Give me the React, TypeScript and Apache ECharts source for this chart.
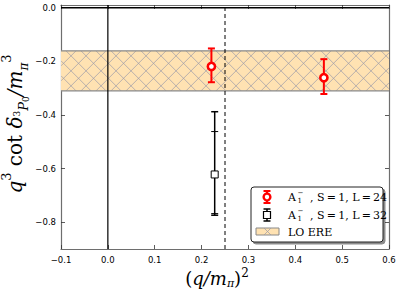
import React, { useEffect, useRef } from "react";
import * as echarts from "echarts";

// ---- data ----
const xTicks = [-0.1, 0.0, 0.1, 0.2, 0.3, 0.4, 0.5, 0.6];
const yTicks = [-0.8, -0.6, -0.4, -0.2, 0.0];
const xRange = [-0.1, 0.6];
const yRange = [-0.9, 0.01];

// L=24 (red)
const redX = [0.221, 0.461];
const redY = [-0.219, -0.261];
const redLo = [-0.278, -0.322];
const redHi = [-0.152, -0.192];

// L=32 (black): two error bars
const blackX = [0.228];
const blackY = [-0.622];
const blackLo = [-0.774];
const blackHi = [-0.388];
const blackLo2 = [-0.768];
const blackHi2 = [-0.462];

// LO ERE band
const bandLo = -0.31;
const bandHi = -0.161;

// reference lines
const xZero = 0.0;
const xDash = 0.25;
const yZero = 0.0;

const BAND_FILL = "#FFE2B2";
const RED = "#FF0000";

const fmt = (v: number) => {
  const s = (Math.round(v * 10) / 10).toFixed(1);
  return s.replace("-", "\u2212");
};

function hatchLines(x0: number, y0: number, x1: number, y1: number, step: number) {
  const out: any[] = [];
  const style = { stroke: "#9a9aa8", lineWidth: 0.7 };
  for (let c = x0 - y1; c <= x1 - y0; c += step) {
    const a = Math.max(x0, y0 + c);
    const b = Math.min(x1, y1 + c);
    if (b > a) out.push({ type: "line", shape: { x1: a, y1: a - c, x2: b, y2: b - c }, style });
  }
  for (let c = x0 + y0; c <= x1 + y1; c += step) {
    const a = Math.max(x0, c - y1);
    const b = Math.min(x1, c - y0);
    if (b > a) out.push({ type: "line", shape: { x1: a, y1: c - a, x2: b, y2: c - b }, style });
  }
  return out;
}

export default function App() {
  const ref = useRef<HTMLDivElement>(null);
  useEffect(() => {
    if (!ref.current) return;
    const chart = echarts.init(ref.current, undefined, { renderer: "svg" });

    const axisCommon = {
      type: "value" as const,
      splitLine: { show: false },
      axisLine: { onZero: false, lineStyle: { color: "#6e6e6e", width: 1.2 } },
      axisTick: { inside: true, length: 4, lineStyle: { color: "#333", width: 0.8 } },
    };

    const redData = redX.map((x, i) => [x, redY[i], redLo[i], redHi[i]]);
    const blackData = blackX.map((x, i) => [x, blackY[i], blackLo[i], blackHi[i], blackLo2[i], blackHi2[i]]);

    const serif = "DejaVu Serif";
    const LH = 30;
    const XLH = 22;

    const option: any = {
      animation: false,
      backgroundColor: "#fff",
      grid: { left: 61, right: 10, top: 5, bottom: 45 },
      xAxis: [
        {
          ...axisCommon,
          position: "bottom",
          min: xRange[0],
          max: xRange[1],
          interval: 0.1,
          axisLabel: { fontSize: 8.5, color: "#000", fontFamily: "DejaVu Sans", margin: 6, formatter: fmt },
        },
        {
          ...axisCommon,
          position: "top",
          min: xRange[0],
          max: xRange[1],
          interval: 0.1,
          axisLabel: { show: false },
        },
      ],
      yAxis: [
        {
          ...axisCommon,
          position: "left",
          min: yRange[0],
          max: yRange[1],
          axisTick: { ...axisCommon.axisTick, customValues: yTicks },
          axisLabel: {
            fontSize: 8.5,
            color: "#000",
            fontFamily: "DejaVu Sans",
            margin: 5,
            customValues: yTicks,
            formatter: fmt,
          },
        },
        {
          ...axisCommon,
          position: "right",
          min: yRange[0],
          max: yRange[1],
          axisTick: { ...axisCommon.axisTick, customValues: yTicks },
          axisLabel: { show: false },
        },
      ],
      series: [
        {
          type: "custom",
          name: "LO ERE",
          z: 1,
          clip: true,
          data: [[xRange[0], bandLo, xRange[1], bandHi]],
          renderItem: (params: any, api: any) => {
            const p0 = api.coord([api.value(0), api.value(3)]);
            const p1 = api.coord([api.value(2), api.value(1)]);
            const x0 = p0[0], y0 = p0[1], x1 = p1[0], y1 = p1[1];
            return {
              type: "group",
              children: [
                { type: "rect", shape: { x: x0, y: y0, width: x1 - x0, height: y1 - y0 }, style: { fill: BAND_FILL } },
                ...hatchLines(x0, y0, x1, y1, 15),
                { type: "line", shape: { x1: x0, y1: y0, x2: x1, y2: y0 }, style: { stroke: "#888", lineWidth: 1.2 } },
                { type: "line", shape: { x1: x0, y1: y1, x2: x1, y2: y1 }, style: { stroke: "#888", lineWidth: 1.2 } },
              ],
            };
          },
        },
        {
          type: "line",
          z: 2,
          symbol: "none",
          data: [[xZero, yRange[0]], [xZero, yRange[1]]],
          lineStyle: { color: "#000", width: 1.2 },
        },
        {
          type: "line",
          z: 2,
          symbol: "none",
          data: [[xRange[0], yZero], [xRange[1], yZero]],
          lineStyle: { color: "#000", width: 1.5 },
        },
        {
          type: "line",
          z: 2,
          symbol: "none",
          data: [[xDash, yRange[0]], [xDash, yRange[1]]],
          lineStyle: { color: "#000", width: 1, type: [4, 3] },
        },
        {
          type: "custom",
          name: "L=32",
          z: 3,
          data: blackData,
          renderItem: (params: any, api: any) => {
            const x = api.value(0);
            const p = api.coord([x, api.value(1)]);
            const lo = api.coord([x, api.value(2)]);
            const hi = api.coord([x, api.value(3)]);
            const lo2 = api.coord([x, api.value(4)]);
            const hi2 = api.coord([x, api.value(5)]);
            const s = { stroke: "#000", lineWidth: 1.5 };
            const cw = 3.5;
            return {
              type: "group",
              children: [
                { type: "line", shape: { x1: p[0], y1: hi[1], x2: p[0], y2: lo[1] }, style: s },
                { type: "line", shape: { x1: p[0] - cw, y1: hi[1], x2: p[0] + cw, y2: hi[1] }, style: s },
                { type: "line", shape: { x1: p[0] - cw, y1: lo[1], x2: p[0] + cw, y2: lo[1] }, style: s },
                { type: "line", shape: { x1: p[0] - cw, y1: hi2[1], x2: p[0] + cw, y2: hi2[1] }, style: { stroke: "#000", lineWidth: 1 } },
                { type: "line", shape: { x1: p[0] - cw, y1: lo2[1], x2: p[0] + cw, y2: lo2[1] }, style: { stroke: "#000", lineWidth: 1 } },
                { type: "rect", shape: { x: p[0] - 3.5, y: p[1] - 3.5, width: 7, height: 7 }, style: { fill: "#fff", stroke: "#000", lineWidth: 1 } },
              ],
            };
          },
        },
        {
          type: "custom",
          name: "L=24",
          z: 4,
          data: redData,
          renderItem: (params: any, api: any) => {
            const x = api.value(0);
            const p = api.coord([x, api.value(1)]);
            const lo = api.coord([x, api.value(2)]);
            const hi = api.coord([x, api.value(3)]);
            const s = { stroke: RED, lineWidth: 2 };
            const cw = 3.5;
            return {
              type: "group",
              children: [
                { type: "line", shape: { x1: p[0], y1: hi[1], x2: p[0], y2: lo[1] }, style: s },
                { type: "line", shape: { x1: p[0] - cw, y1: hi[1], x2: p[0] + cw, y2: hi[1] }, style: s },
                { type: "line", shape: { x1: p[0] - cw, y1: lo[1], x2: p[0] + cw, y2: lo[1] }, style: s },
                { type: "circle", shape: { cx: p[0], cy: p[1], r: 3.6 }, style: { fill: "#fff", stroke: RED, lineWidth: 2.6 } },
              ],
            };
          },
        },
      ],
      graphic: [
        // y-axis label
        {
          type: "text",
          x: 15,
          y: 124,
          rotation: Math.PI / 2,
          style: {
            text: "{i|q}{sup|3}{n| cot }{i|δ}{ss|3}{si|P}{s0|0}{i|/m}{sp|π}{sup|3}",
            align: "center",
            verticalAlign: "middle",
            fill: "#000",
            rich: {
              i: { fontFamily: serif, fontStyle: "italic", fontSize: 20, verticalAlign: "middle", lineHeight: LH },
              n: { fontFamily: serif, fontSize: 20, verticalAlign: "middle", lineHeight: LH },
              sup: { fontFamily: serif, fontSize: 13, verticalAlign: "top", lineHeight: LH },
              ss: { fontFamily: serif, fontSize: 9, verticalAlign: "middle", lineHeight: LH, padding: [3, 0, 0, 0] },
              si: { fontFamily: serif, fontStyle: "italic", fontSize: 13, verticalAlign: "bottom", lineHeight: LH },
              s0: { fontFamily: serif, fontSize: 9, verticalAlign: "bottom", lineHeight: LH },
              sp: { fontFamily: serif, fontStyle: "italic", fontSize: 12, verticalAlign: "bottom", lineHeight: LH },
            },
          },
        },
        // x-axis label
        {
          type: "text",
          x: 217,
          y: 278,
          style: {
            text: "{n|(}{i|q/m}{sp|π}{n|)}{sup|2}",
            align: "center",
            verticalAlign: "middle",
            fill: "#000",
            rich: {
              i: { fontFamily: serif, fontStyle: "italic", fontSize: 18, verticalAlign: "middle", lineHeight: XLH },
              n: { fontFamily: serif, fontSize: 18, verticalAlign: "middle", lineHeight: XLH },
              sup: { fontFamily: serif, fontSize: 12, verticalAlign: "top", lineHeight: XLH },
              sp: { fontFamily: serif, fontStyle: "italic", fontSize: 11, verticalAlign: "bottom", lineHeight: XLH },
            },
          },
        },
        // legend box
        {
          type: "rect",
          shape: { x: 251, y: 187, width: 132, height: 55, r: 3 },
          style: { fill: "#fff", stroke: "#222", lineWidth: 1, shadowColor: "rgba(0,0,0,0.45)", shadowOffsetX: 2, shadowOffsetY: 2, shadowBlur: 0 },
          z: 10,
        },
        // legend: red icon
        { type: "line", shape: { x1: 267, y1: 191, x2: 267, y2: 203 }, style: { stroke: RED, lineWidth: 2 }, z: 11 },
        { type: "line", shape: { x1: 263.5, y1: 191, x2: 270.5, y2: 191 }, style: { stroke: RED, lineWidth: 2 }, z: 11 },
        { type: "line", shape: { x1: 263.5, y1: 203, x2: 270.5, y2: 203 }, style: { stroke: RED, lineWidth: 2 }, z: 11 },
        { type: "circle", shape: { cx: 267, cy: 197, r: 3.4 }, style: { fill: "#fff", stroke: RED, lineWidth: 2.4 }, z: 11 },
        // legend: black icon
        { type: "line", shape: { x1: 267, y1: 209, x2: 267, y2: 221 }, style: { stroke: "#000", lineWidth: 1.5 }, z: 11 },
        { type: "line", shape: { x1: 263.5, y1: 209, x2: 270.5, y2: 209 }, style: { stroke: "#000", lineWidth: 1.5 }, z: 11 },
        { type: "line", shape: { x1: 263.5, y1: 221, x2: 270.5, y2: 221 }, style: { stroke: "#000", lineWidth: 1.5 }, z: 11 },
        { type: "rect", shape: { x: 263.5, y: 211.5, width: 7, height: 7 }, style: { fill: "#fff", stroke: "#000", lineWidth: 1.2 }, z: 11 },
        // legend: band icon
        { type: "rect", shape: { x: 256, y: 228, width: 23, height: 7 }, style: { fill: BAND_FILL, stroke: "#888", lineWidth: 1 }, z: 11 },
        { type: "line", shape: { x1: 264, y1: 228, x2: 271, y2: 235 }, style: { stroke: "#9a9aa8", lineWidth: 0.7 }, z: 11 },
        { type: "line", shape: { x1: 264, y1: 235, x2: 271, y2: 228 }, style: { stroke: "#9a9aa8", lineWidth: 0.7 }, z: 11 },
        // legend texts
        ...[
          { y: 197, t: ", S\u2009=\u20091, L\u2009=\u200924" },
          { y: 215, t: ", S\u2009=\u20091, L\u2009=\u200932" },
        ].flatMap((r) => [
          { type: "text", x: 288, y: r.y, z: 11, style: { text: "A", fontFamily: serif, fontSize: 11, fill: "#000", verticalAlign: "middle" } },
          { type: "text", x: 297.5, y: r.y - 4, z: 11, style: { text: "\u2212", fontFamily: serif, fontSize: 7, fill: "#000", verticalAlign: "middle" } },
          { type: "text", x: 297.5, y: r.y + 3.5, z: 11, style: { text: "1", fontFamily: serif, fontSize: 7, fill: "#000", verticalAlign: "middle" } },
          { type: "text", x: 310, y: r.y, z: 11, style: { text: r.t, fontFamily: serif, fontSize: 11, fill: "#000", verticalAlign: "middle" } },
        ]),
        { type: "text", x: 288, y: 232, z: 11, style: { text: "LO ERE", fontFamily: serif, fontSize: 11, fill: "#000", verticalAlign: "middle" } },
      ],
    };

    chart.setOption(option);
    return () => chart.dispose();
  }, []);

  return <div ref={ref} style={{ width: 399, height: 294, position: "absolute", left: 0, top: 0 }} />;
}
